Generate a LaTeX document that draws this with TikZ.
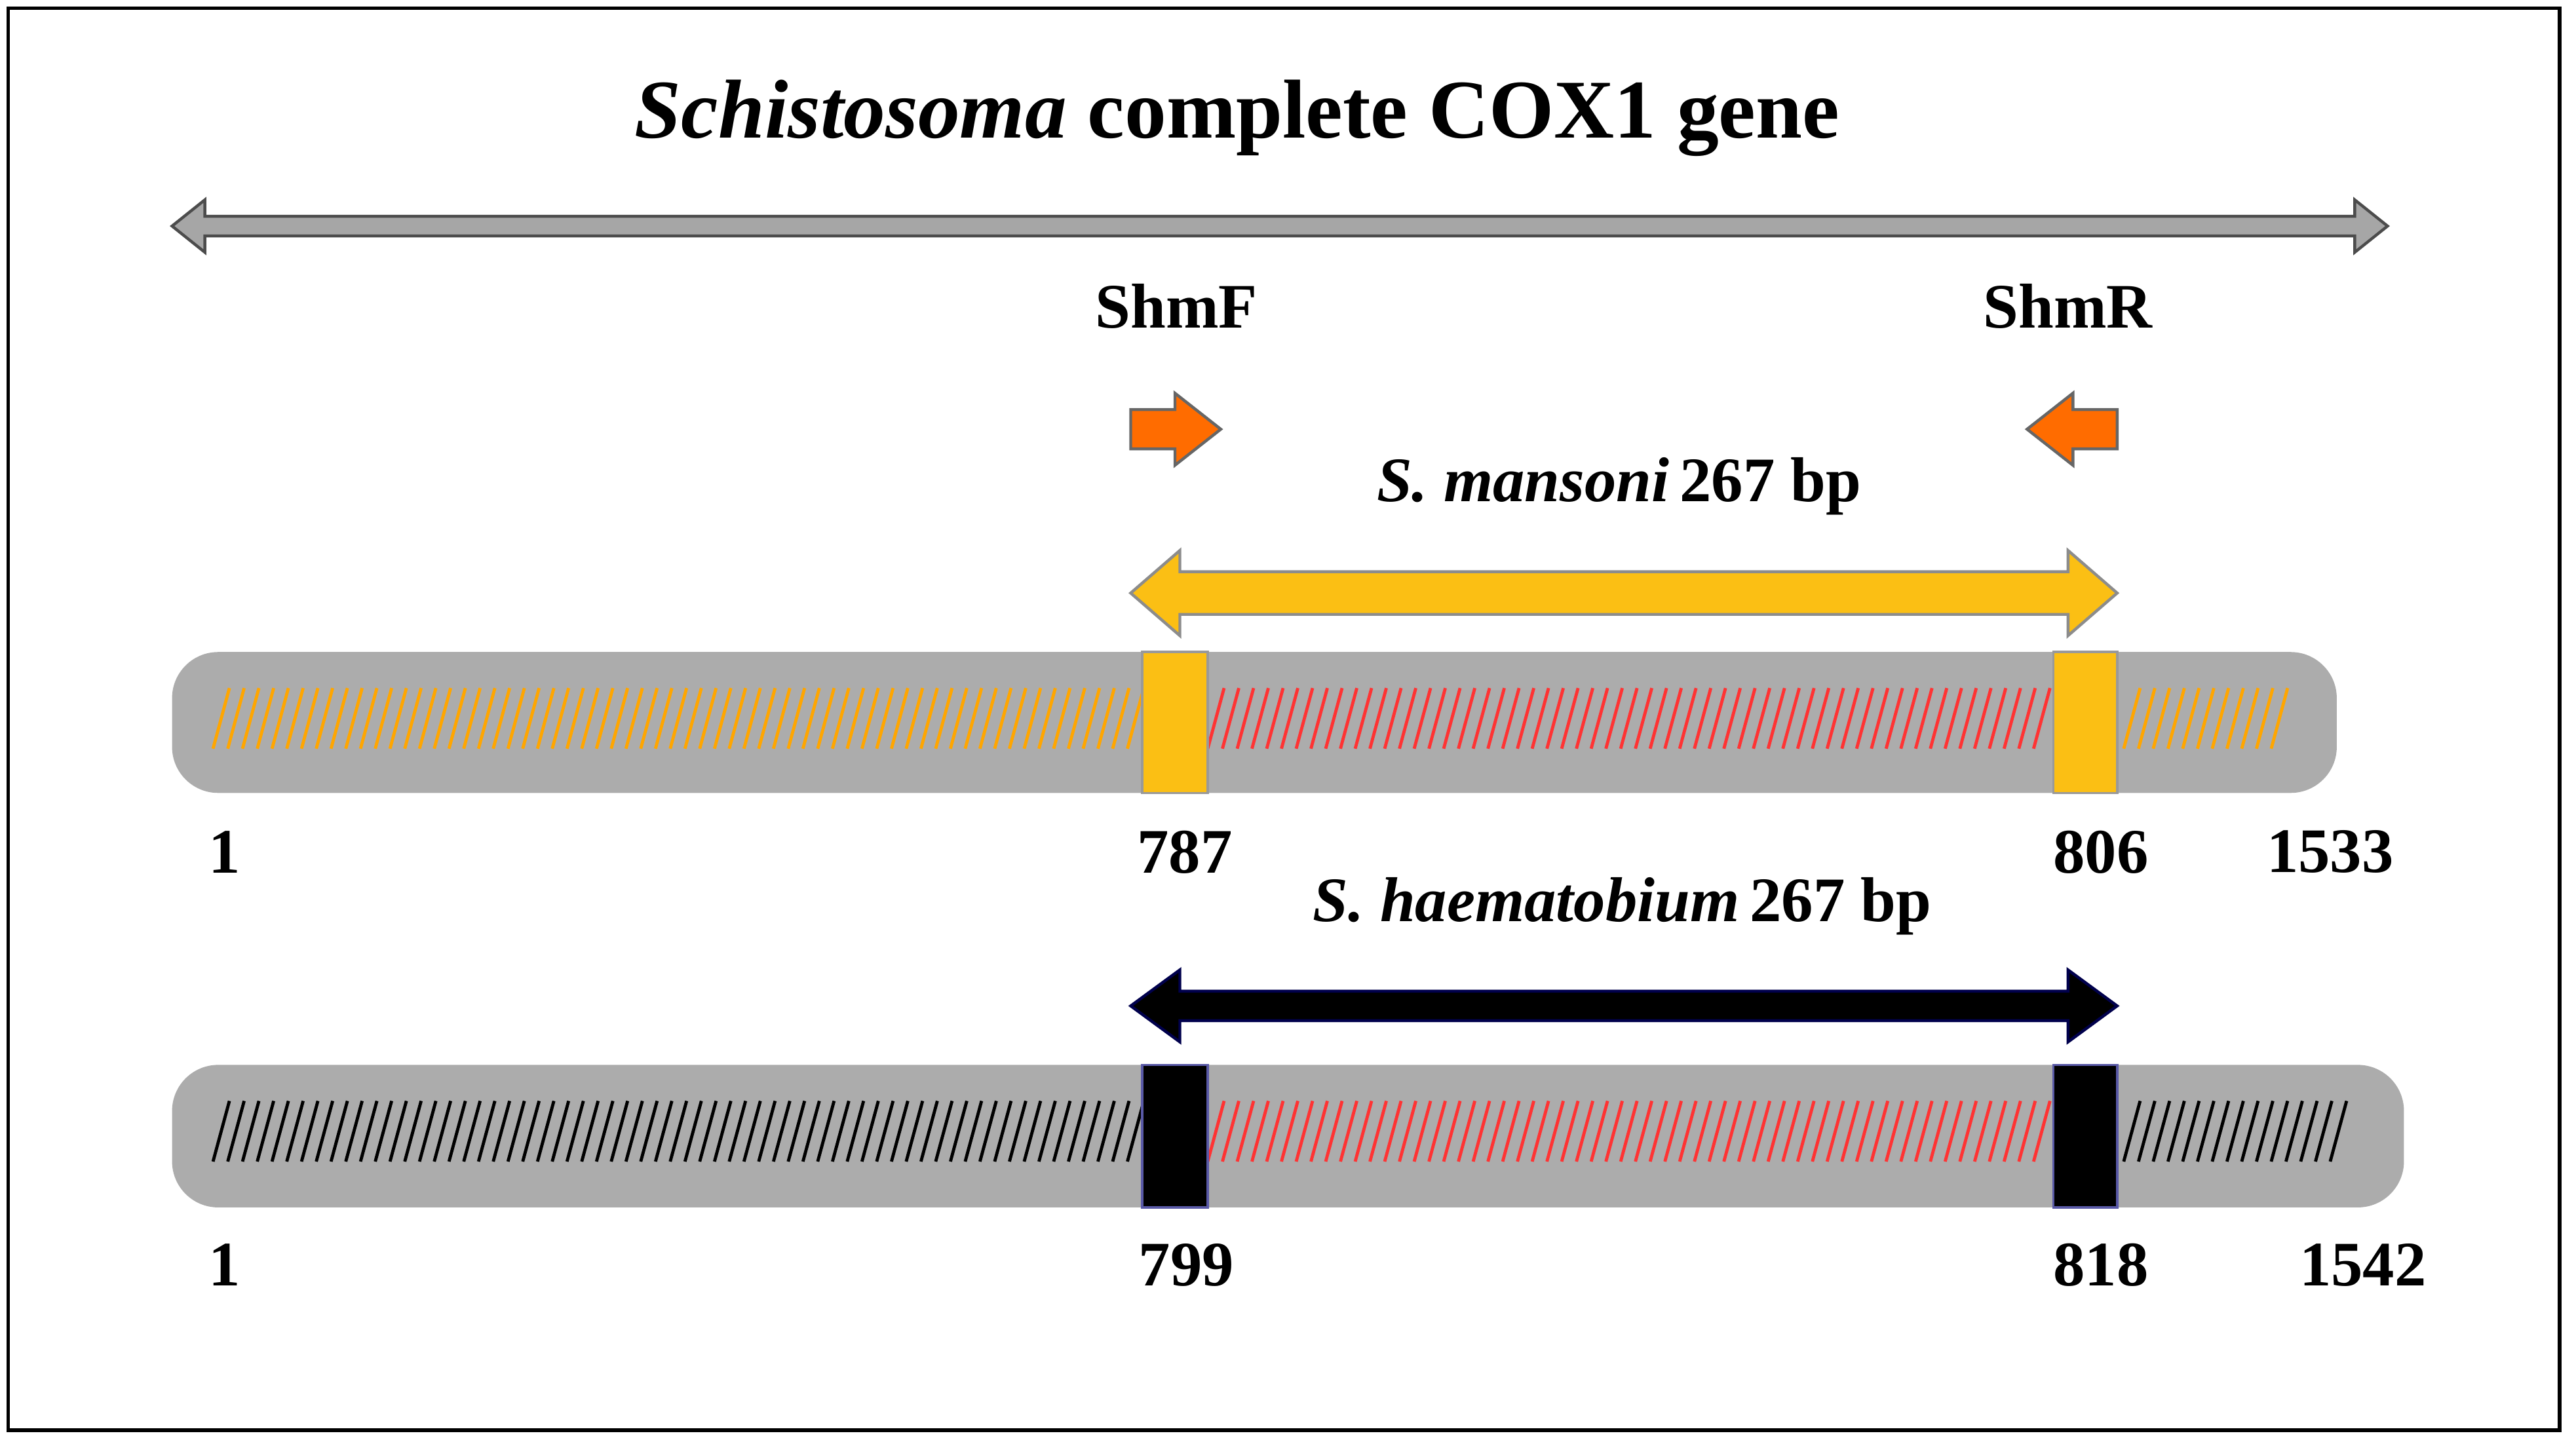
\documentclass[tikz,border=0pt]{standalone}
\usepackage{fontspec}
\setmainfont{Liberation Serif}
\begin{document}
\begin{tikzpicture}[x=0.01cm,y=-0.01cm,
  lbl/.style={font=\bfseries\fontsize{11}{13}\selectfont, inner sep=0pt},
  hatch/.style={line width=0.55pt}]
\useasboundingbox (0,0) rectangle (1572,880);
\draw[line width=0.6pt] (5,5) rectangle (1562,873);
\node[font=\bfseries\fontsize{14.5}{16}\selectfont] (title) at (755,72) {\textit{Schistosoma} complete COX1 gene};
% grey double arrow
\draw[fill=gray!70, draw=black!70, line width=0.5pt] (105,138) -- (125,122) -- (125,132) -- (1437,132) -- (1437,122) -- (1457,138) -- (1437,154) -- (1437,144) -- (125,144) -- (125,154) -- cycle;
\node[lbl] (shmf) at (718,187) {ShmF};
\node[lbl] (shmr) at (1262,187) {ShmR};
% orange primers
\draw[fill=orange!85!red, draw=black!60, line width=0.5pt] (690,250) -- (717,250) -- (717,240) -- (745,262) -- (717,284) -- (717,274) -- (690,274) -- cycle;
\draw[fill=orange!85!red, draw=black!60, line width=0.5pt] (1292,250) -- (1265,250) -- (1265,240) -- (1237,262) -- (1265,284) -- (1265,274) -- (1292,274) -- cycle;
\node[lbl] (mlab) at (988,297) {\textit{S. mansoni}\,267 bp};
% yellow double arrow
\draw[fill=yellow!50!orange!95, draw=black!45, line width=0.5pt] (690,362) -- (720,336) -- (720,349) -- (1262,349) -- (1262,336) -- (1292,362) -- (1262,388) -- (1262,375) -- (720,375) -- (720,388) -- cycle;
% bar 1
\fill[gray!65, rounded corners=8] (105,398) rectangle (1426,484);
\foreach \x in {130,139,...,688} \draw[hatch, draw=orange!70!yellow] (\x,457) -- (\x+10,420);
\foreach \x in {737,746,...,1245} \draw[hatch, draw=red!80] (\x,457) -- (\x+10,420);
\foreach \x in {1296,1305,...,1390} \draw[hatch, draw=orange!70!yellow] (\x,457) -- (\x+10,420);
\draw[fill=yellow!50!orange!95, draw=black!40] (697,398) rectangle (737,484);
\draw[fill=yellow!50!orange!95, draw=black!40] (1253,398) rectangle (1292,484);
\node[lbl] (a1) at (137,520) {1};
\node[lbl] (a2) at (723,520) {787};
\node[lbl] (a3) at (1282,520) {806};
\node[lbl] (a4) at (1422,520) {1533};
\node[lbl] (hlab) at (990,553) {\textit{S. haematobium}\,267 bp};
% black double arrow
\draw[fill=black, draw=black!70!blue, line width=0.5pt] (690,614) -- (720,592) -- (720,605) -- (1262,605) -- (1262,592) -- (1292,614) -- (1262,636) -- (1262,623) -- (720,623) -- (720,636) -- cycle;
% bar 2
\fill[gray!65, rounded corners=8] (105,650) rectangle (1467,737);
\foreach \x in {130,139,...,688} \draw[hatch, draw=black] (\x,709) -- (\x+10,672);
\foreach \x in {737,746,...,1245} \draw[hatch, draw=red!80] (\x,709) -- (\x+10,672);
\foreach \x in {1296,1305,...,1430} \draw[hatch, draw=black] (\x,709) -- (\x+10,672);
\draw[fill=black, draw=blue!30!gray] (697,650) rectangle (737,737);
\draw[fill=black, draw=blue!30!gray] (1253,650) rectangle (1292,737);
\node[lbl] (b1) at (137,772) {1};
\node[lbl] (b2) at (724,772) {799};
\node[lbl] (b3) at (1282,772) {818};
\node[lbl] (b4) at (1442,772) {1542};
\end{tikzpicture}
\end{document}
